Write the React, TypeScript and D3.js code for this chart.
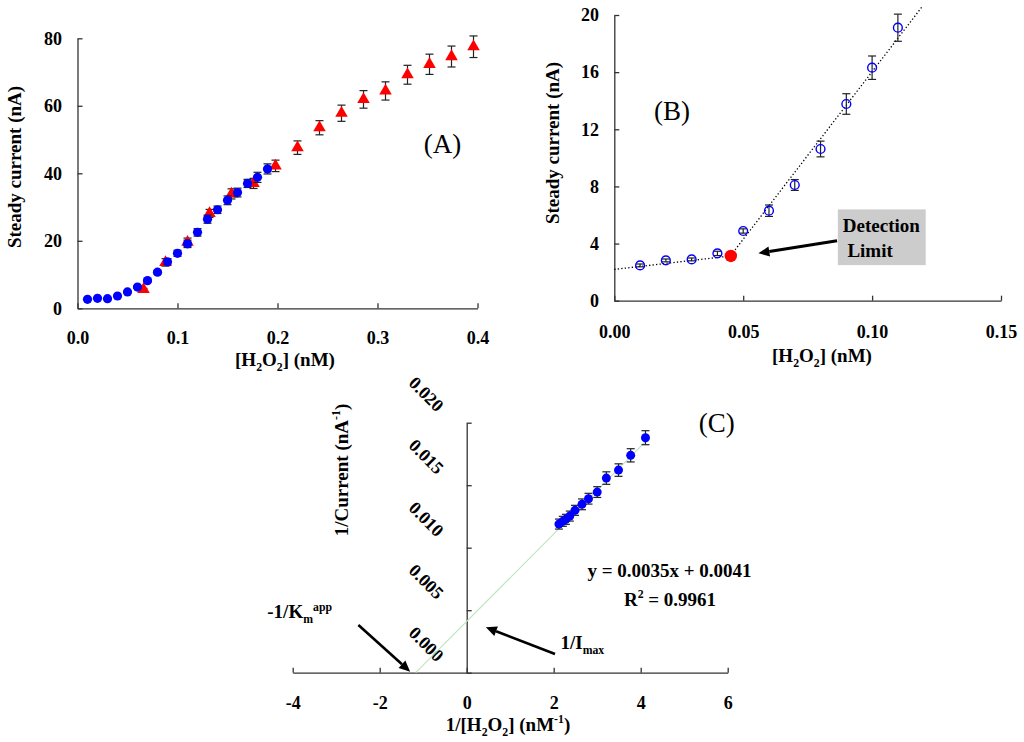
import * as d3 from "d3";
import { useEffect, useRef } from "react";

// panel A: full calibration range
const concBlue = [0.01, 0.02, 0.03, 0.04, 0.05, 0.06, 0.07, 0.08, 0.09, 0.1, 0.11, 0.12, 0.13, 0.14, 0.15, 0.16, 0.17, 0.18, 0.19];
const currentBlue = [2.67, 2.96, 2.86, 3.65, 4.84, 6.3, 8.2, 10.7, 13.8, 16.3, 19.1, 22.5, 26.4, 29.2, 32.0, 34.3, 37.0, 38.8, 41.3];
const errBlue = [0.1, 0.1, 0.15, 0.2, 0.25, 0.4, 0.4, 0.55, 0.9, 0.9, 1.1, 1.1, 1.2, 1.1, 1.3, 1.3, 1.2, 1.5, 1.5];

const concRed = [0.066, 0.088, 0.11, 0.132, 0.154, 0.176, 0.198, 0.22, 0.242, 0.264, 0.286, 0.308, 0.33, 0.352, 0.374, 0.396];
const currentRed = [5.6, 13.6, 19.6, 28.1, 33.9, 37.0, 42.2, 47.6, 53.5, 57.8, 61.9, 64.4, 69.2, 72.3, 74.6, 77.5];
const errRed = [0.3, 1.1, 1.2, 1.2, 1.5, 1.5, 1.7, 2.0, 2.1, 2.4, 2.6, 2.7, 2.8, 3.0, 3.1, 3.2];

// panel B: low range + detection limit
const concB = [0.01, 0.02, 0.03, 0.04, 0.05, 0.06, 0.07, 0.08, 0.09, 0.1, 0.11];
const currentB = [2.47, 2.82, 2.89, 3.31, 4.88, 6.3, 8.1, 10.62, 13.77, 16.31, 19.11];
const errB = [0.1, 0.1, 0.1, 0.15, 0.15, 0.4, 0.38, 0.55, 0.72, 0.82, 0.95];
const detectionConc = [0.0452];
const detectionCurrent = [3.13];
const lowFit = { slope: 20.9, intercept: 2.19, from: 0, to: 0.0452 };
const highFit = { slope: 234.6, intercept: -7.43, from: 0.0452, to: 0.1195 };

// panel C: Lineweaver-Burk
const invConc = [2.12, 2.21, 2.28, 2.37, 2.49, 2.65, 2.8, 3.0, 3.21, 3.49, 3.77, 4.11];
const invCurrent = [0.01189, 0.01211, 0.01227, 0.01253, 0.01299, 0.01347, 0.01392, 0.01445, 0.01557, 0.01621, 0.01739, 0.0188];
const errC = [0.0004, 0.0004, 0.0004, 0.0004, 0.0004, 0.00043, 0.00043, 0.00043, 0.0005, 0.0005, 0.00053, 0.00056];
const lbFit = { slope: 0.0035, intercept: 0.0041, to: 4.15 };

const ticksA = { x: [0, 0.1, 0.2, 0.3, 0.4], y: [0, 20, 40, 60, 80] };
const ticksB = { x: [0, 0.05, 0.1, 0.15], y: [0, 4, 8, 12, 16, 20] };
const ticksC = { x: [-4, -2, 0, 2, 4, 6], y: [0, 0.005, 0.01, 0.015, 0.02] };

const FONT = '"Liberation Serif", "Times New Roman", serif';
const AXIS = "#333";

type Sel = d3.Selection<SVGGElement, unknown, null, undefined>;
type Part = { t: string; sub?: boolean; sup?: boolean };

function richText(g: Sel, x: number, y: number, parts: Part[], size: number, anchor = "middle", transform?: string) {
  const t = g
    .append("text")
    .attr("x", x)
    .attr("y", y)
    .attr("text-anchor", anchor)
    .attr("font-family", FONT)
    .attr("font-weight", "bold")
    .attr("font-size", size);
  if (transform) t.attr("transform", transform);
  let shift = 0;
  parts.forEach((p) => {
    const target = p.sub ? size * 0.25 : p.sup ? -size * 0.4 : 0;
    t.append("tspan")
      .attr("dy", target - shift)
      .attr("font-size", p.sub || p.sup ? size * 0.62 : size)
      .text(p.t);
    shift = target;
  });
  return t;
}

function drawAxes(
  g: Sel,
  x: d3.ScaleLinear<number, number>,
  y: d3.ScaleLinear<number, number>,
  xTicks: number[],
  yTicks: number[],
  xFmt: (d: number) => string,
  yFmt: (d: number) => string,
  xPad: number,
  yPad: number
) {
  const y0 = y.range()[0];
  const x0 = x(0) ?? 0;
  const xa = g
    .append("g")
    .attr("transform", `translate(0,${y0})`)
    .call(
      d3.axisBottom(x).tickValues(xTicks).tickSizeInner(-5).tickSizeOuter(0).tickPadding(xPad)
        .tickFormat((d) => xFmt(d as number))
    );
  const ya = g
    .append("g")
    .attr("transform", `translate(${x0},0)`)
    .call(
      d3.axisLeft(y).tickValues(yTicks).tickSizeInner(-5).tickSizeOuter(0).tickPadding(yPad)
        .tickFormat((d) => yFmt(d as number))
    );
  [xa, ya].forEach((a) => {
    a.select(".domain").attr("stroke", AXIS).attr("stroke-width", 1.3);
    a.selectAll(".tick line").attr("stroke", AXIS).attr("stroke-width", 1.3);
    a.selectAll(".tick text")
      .attr("font-family", FONT)
      .attr("font-weight", "bold")
      .attr("font-size", 18)
      .attr("fill", "#000");
    a.attr("font-family", null).attr("font-size", null);
  });
  return { xa, ya };
}

function errorBars(g: Sel, xs: number[], ys: number[], es: number[], x: d3.ScaleLinear<number, number>, y: d3.ScaleLinear<number, number>) {
  const cap = 4;
  xs.forEach((xv, i) => {
    const px = x(xv);
    const top = y(ys[i] + es[i]);
    const bot = y(ys[i] - es[i]);
    const eg = g.append("g").attr("stroke", "#222").attr("stroke-width", 1.2);
    eg.append("line").attr("x1", px).attr("x2", px).attr("y1", top).attr("y2", bot);
    eg.append("line").attr("x1", px - cap).attr("x2", px + cap).attr("y1", top).attr("y2", top);
    eg.append("line").attr("x1", px - cap).attr("x2", px + cap).attr("y1", bot).attr("y2", bot);
  });
}

function arrow(g: Sel, x1: number, y1: number, x2: number, y2: number, w = 2.6) {
  const ang = Math.atan2(y2 - y1, x2 - x1);
  const len = 11;
  const half = 5;
  const bx = x2 - len * Math.cos(ang);
  const by = y2 - len * Math.sin(ang);
  g.append("line").attr("x1", x1).attr("y1", y1).attr("x2", bx).attr("y2", by).attr("stroke", "#000").attr("stroke-width", w);
  const p = [
    [x2, y2],
    [bx + half * Math.sin(ang), by - half * Math.cos(ang)],
    [bx - half * Math.sin(ang), by + half * Math.cos(ang)],
  ];
  g.append("path").attr("d", d3.line()(p as [number, number][]) + "Z").attr("fill", "#000");
}

function panelA(root: Sel) {
  const g = root.append("g");
  const x = d3.scaleLinear().domain([0, 0.4]).range([77.5, 477.5]);
  const y = d3.scaleLinear().domain([0, 80]).range([308.3, 38.3]);
  drawAxes(g, x, y, ticksA.x, ticksA.y, d3.format(".1f"), d3.format("d"), 23, 15.5);

  errorBars(g, concRed, currentRed, errRed, x, y);
  g.selectAll("path.tri")
    .data(concRed)
    .enter()
    .append("path")
    .attr("class", "tri")
    .attr("d", d3.symbol(d3.symbolTriangle).size(68)())
    .attr("transform", (d, i) => `translate(${x(d)},${y(currentRed[i])})`)
    .attr("fill", "#ff0000");

  errorBars(g, concBlue, currentBlue, errBlue, x, y);
  g.selectAll("circle.pt")
    .data(concBlue)
    .enter()
    .append("circle")
    .attr("class", "pt")
    .attr("cx", (d) => x(d))
    .attr("cy", (d, i) => y(currentBlue[i]))
    .attr("r", 4.6)
    .attr("fill", "#0000ff");

  richText(g, 285, 366, [{ t: "[H" }, { t: "2", sub: true }, { t: "O" }, { t: "2", sub: true }, { t: "] (nM)" }], 19);
  richText(g, 0, 0, [{ t: "Steady current (nA)" }], 19, "middle", "translate(21,167) rotate(-90)");
  g.append("text").attr("x", 442.5).attr("y", 153).attr("text-anchor", "middle")
    .attr("font-family", FONT).attr("font-size", 27).text("(A)");
}

function panelB(root: Sel) {
  const g = root.append("g");
  const x = d3.scaleLinear().domain([0, 0.15]).range([614.3, 1001]);
  const y = d3.scaleLinear().domain([0, 20]).range([300.7, 15]);
  drawAxes(g, x, y, ticksB.x, ticksB.y, d3.format(".2f"), d3.format("d"), 24.5, 15.3);

  const fitLine = d3.line<number>().x((d) => x(d));
  [lowFit, highFit].forEach((f) => {
    g.append("path")
      .attr("d", fitLine.y((d) => y(f.slope * d + f.intercept))([f.from, f.to]))
      .attr("fill", "none")
      .attr("stroke", "#000")
      .attr("stroke-width", 1.3)
      .attr("stroke-dasharray", "1.3,2.2");
  });

  errorBars(g, concB, currentB, errB, x, y);
  g.selectAll("circle.pt")
    .data(concB)
    .enter()
    .append("circle")
    .attr("class", "pt")
    .attr("cx", (d) => x(d))
    .attr("cy", (d, i) => y(currentB[i]))
    .attr("r", 4.4)
    .attr("fill", "none")
    .attr("stroke", "#0000ff")
    .attr("stroke-width", 1.4);

  g.selectAll("circle.dl")
    .data(detectionConc)
    .enter()
    .append("circle")
    .attr("class", "dl")
    .attr("cx", (d) => x(d))
    .attr("cy", (d, i) => y(detectionCurrent[i]))
    .attr("rx", 6)
    .attr("r", 6.2)
    .attr("fill", "#ff0000");

  // detection limit callout
  const bx0 = x(0.0867);
  const by0 = y(6.39);
  g.append("rect").attr("x", bx0).attr("y", by0).attr("width", x(0.1208) - bx0).attr("height", y(2.49) - by0).attr("fill", "#cccccc");
  richText(g, bx0 + 5, y(4.82), [{ t: "Detection" }], 19, "start");
  richText(g, bx0 + 9.6, y(3.06), [{ t: "Limit" }], 19, "start");
  arrow(g, x(0.0864), y(4.2), x(0.0559), y(3.32), 3);

  richText(g, 822, 362, [{ t: "[H" }, { t: "2", sub: true }, { t: "O" }, { t: "2", sub: true }, { t: "] (nM)" }], 19);
  richText(g, 0, 0, [{ t: "Steady current (nA)" }], 19, "middle", "translate(559,143) rotate(-90)");
  g.append("text").attr("x", 672).attr("y", 120).attr("text-anchor", "middle")
    .attr("font-family", FONT).attr("font-size", 27).text("(B)");
}

function panelC(root: Sel) {
  const g = root.append("g");
  const x = d3.scaleLinear().domain([-4, 6]).range([292.7, 727.7]);
  const y = d3.scaleLinear().domain([0, 0.02]).range([672.7, 422.7]);
  const { ya } = drawAxes(g, x, y, ticksC.x, ticksC.y, (d) => String(d), d3.format(".3f"), 23.2, 10);
  ya.selectAll(".tick text")
    .attr("x", 0)
    .attr("dy", null)
    .attr("dominant-baseline", "central")
    .attr("text-anchor", "middle")
    .attr("transform", "translate(-40.5,-29) rotate(45)");

  const xInt = -lbFit.intercept / lbFit.slope;
  g.append("path")
    .attr("d", d3.line<number>().x((d) => x(d)).y((d) => y(lbFit.slope * d + lbFit.intercept))([xInt, lbFit.to]))
    .attr("stroke", "#bfe3bf")
    .attr("stroke-width", 1.1)
    .attr("fill", "none");

  errorBars(g, invConc, invCurrent, errC, x, y);
  g.selectAll("circle.pt")
    .data(invConc)
    .enter()
    .append("circle")
    .attr("class", "pt")
    .attr("cx", (d) => x(d))
    .attr("cy", (d, i) => y(invCurrent[i]))
    .attr("r", 4.5)
    .attr("fill", "#0000ff");

  richText(g, 669.5, 577, [{ t: "y = 0.0035x + 0.0041" }], 19);
  richText(g, 670, 606, [{ t: "R" }, { t: "2", sup: true }, { t: " = 0.9961" }], 19);

  richText(g, 267.3, 618.3, [{ t: "-1/K" }, { t: "m", sub: true }, { t: "app", sup: true }], 19, "start");
  arrow(g, x(-2.49), y(0.00382), x(-1.3), y(0.00008));
  richText(g, 560.5, 649.3, [{ t: "1/I" }, { t: "max", sub: true }], 19, "start");
  arrow(g, x(2.03), y(0.0015), x(0.44), y(0.00363));

  richText(g, 508, 731, [{ t: "1/[H" }, { t: "2", sub: true }, { t: "O" }, { t: "2", sub: true }, { t: "] (nM" }, { t: "-1", sup: true }, { t: ")" }], 19);
  richText(g, 0, 0, [{ t: "1/Current (nA" }, { t: "-1", sup: true }, { t: ")" }], 19, "middle", "translate(347.7,470) rotate(-90)");
  g.append("text").attr("x", 716.7).attr("y", 432).attr("text-anchor", "middle")
    .attr("font-family", FONT).attr("font-size", 27).text("(C)");
}

export default function App() {
  const ref = useRef<SVGSVGElement | null>(null);

  useEffect(() => {
    if (!ref.current) return;
    const svg = d3.select(ref.current);
    svg.selectAll("*").remove();
    const root = svg.append("g") as unknown as Sel;
    panelA(root);
    panelB(root);
    panelC(root);
  }, []);

  return (
    <svg
      ref={ref}
      width={1024}
      height={742}
      style={{ position: "absolute", left: 0, top: 0, background: "#fff" }}
    ></svg>
  );
}
